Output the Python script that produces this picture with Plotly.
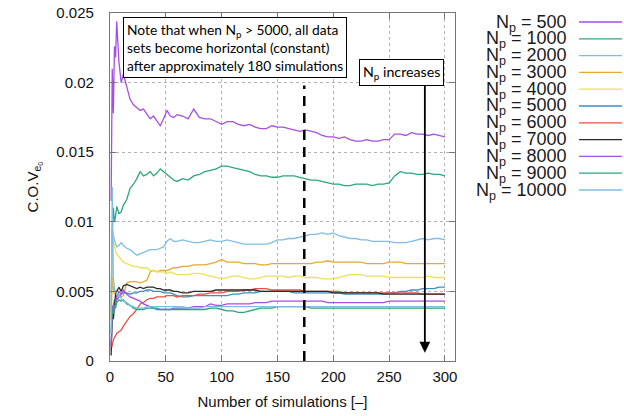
import plotly.graph_objects as go

# ---------------- data ----------------
sims = [1, 2, 3, 4, 5, 6, 8, 10, 12, 15,
        18, 21, 24, 27, 30, 33, 36, 39, 42, 45,
        48, 51, 54, 57, 60, 65, 70, 75, 80, 85,
        90, 95, 100, 105, 110, 115, 120, 125, 130, 135,
        140, 145, 150, 155, 160, 165, 170, 175, 180, 185,
        190, 195, 200, 205, 210, 215, 220, 225, 230, 235,
        240, 245, 250, 255, 260, 265, 270, 275, 280, 285,
        290, 295, 300]

np_labels = ["500", "1000", "2000", "3000", "4000", "5000",
             "6000", "7000", "8000", "9000", "10000"]

cov_500 = [0.0115, 0.0210, 0.0178, 0.0226, 0.0218, 0.0244, 0.0215, 0.0200, 0.0206, 0.0196,
           0.0188, 0.0184, 0.0182, 0.0180, 0.0181, 0.0177, 0.0174, 0.0176, 0.0172, 0.0169,
           0.0174, 0.0180, 0.0176, 0.0175, 0.0177, 0.0176, 0.0174, 0.0181, 0.0175, 0.0174,
           0.0174, 0.0172, 0.0170, 0.0172, 0.0172, 0.0170, 0.0169, 0.0170, 0.0168, 0.0167,
           0.0167, 0.0169, 0.0168, 0.0168, 0.0167, 0.0166, 0.0165, 0.0166, 0.0165, 0.0164,
           0.0162, 0.0161, 0.0161, 0.0160, 0.0161, 0.0159, 0.0158, 0.0158, 0.0159, 0.0158,
           0.0158, 0.0159, 0.0159, 0.0163, 0.0163, 0.0162, 0.0164, 0.0163, 0.0163, 0.0162,
           0.0163, 0.0162, 0.0161]
cov_1000 = [0.0035, 0.0095, 0.0110, 0.0100, 0.0104, 0.0111, 0.0106, 0.0107, 0.0112, 0.0116,
            0.0124, 0.0127, 0.0131, 0.0136, 0.0133, 0.0134, 0.0136, 0.0133, 0.0135, 0.0138,
            0.0136, 0.0134, 0.0132, 0.0130, 0.0129, 0.0131, 0.0130, 0.0133, 0.0134, 0.0136,
            0.0137, 0.0138, 0.0140, 0.0140, 0.0139, 0.0138, 0.0137, 0.0136, 0.0134, 0.0133,
            0.0133, 0.0132, 0.0132, 0.0133, 0.0133, 0.0133, 0.0132, 0.0131, 0.0130, 0.0130,
            0.0129, 0.0128, 0.0127, 0.0127, 0.0126, 0.0126, 0.0127, 0.0127, 0.0127, 0.0126,
            0.0127, 0.0127, 0.0128, 0.0133, 0.0136, 0.0135, 0.0135, 0.0134, 0.0134, 0.0135,
            0.0134, 0.0134, 0.0133]
cov_2000 = [0.0040, 0.0095, 0.0090, 0.0086, 0.0084, 0.0082, 0.0083, 0.0085, 0.0083, 0.0081,
            0.0080, 0.0078, 0.0076, 0.0077, 0.0078, 0.0079, 0.0080, 0.0080, 0.0080, 0.0081,
            0.0082, 0.0086, 0.0088, 0.0086, 0.0086, 0.0087, 0.0086, 0.0085, 0.0085, 0.0086,
            0.0087, 0.0086, 0.0086, 0.0087, 0.0086, 0.0085, 0.0084, 0.0084, 0.0084, 0.0084,
            0.0084, 0.0085, 0.0087, 0.0087, 0.0088, 0.0088, 0.0089, 0.0090, 0.0091, 0.0091,
            0.0092, 0.0091, 0.0092, 0.0090, 0.0089, 0.0088, 0.0088, 0.0087, 0.0087, 0.0086,
            0.0086, 0.0086, 0.0086, 0.0085, 0.0085, 0.0085, 0.0086, 0.0087, 0.0088, 0.0087,
            0.0088, 0.0088, 0.0087]
cov_3000 = [0.0030, 0.0060, 0.0052, 0.0048, 0.0050, 0.0046, 0.0048, 0.0046, 0.0047, 0.0056,
            0.0057, 0.0057, 0.0057, 0.0056, 0.0057, 0.0058, 0.0064, 0.0065, 0.0064, 0.0065,
            0.0065, 0.0065, 0.0066, 0.0067, 0.0067, 0.0068, 0.0068, 0.0069, 0.0069, 0.0069,
            0.0070, 0.0071, 0.0073, 0.0071, 0.0071, 0.0071, 0.0070, 0.0070, 0.0070, 0.0069,
            0.0069, 0.0070, 0.0070, 0.0070, 0.0070, 0.0070, 0.0070, 0.0070, 0.0070, 0.0071,
            0.0071, 0.0072, 0.0071, 0.0071, 0.0071, 0.0071, 0.0071, 0.0071, 0.0070, 0.0070,
            0.0070, 0.0070, 0.0071, 0.0071, 0.0071, 0.0070, 0.0070, 0.0070, 0.0070, 0.0070,
            0.0070, 0.0070, 0.0070]
cov_4000 = [0.0030, 0.0088, 0.0086, 0.0082, 0.0079, 0.0077, 0.0075, 0.0073, 0.0071, 0.0070,
            0.0069, 0.0068, 0.0068, 0.0067, 0.0067, 0.0067, 0.0065, 0.0065, 0.0064, 0.0064,
            0.0064, 0.0063, 0.0064, 0.0063, 0.0062, 0.0062, 0.0062, 0.0063, 0.0063, 0.0062,
            0.0061, 0.0060, 0.0059, 0.0060, 0.0061, 0.0061, 0.0060, 0.0059, 0.0059, 0.0060,
            0.0061, 0.0061, 0.0061, 0.0061, 0.0060, 0.0061, 0.0061, 0.0060, 0.0060, 0.0060,
            0.0059, 0.0059, 0.0059, 0.0060, 0.0061, 0.0062, 0.0062, 0.0062, 0.0061, 0.0061,
            0.0061, 0.0061, 0.0060, 0.0060, 0.0060, 0.0060, 0.0060, 0.0060, 0.0060, 0.0061,
            0.0060, 0.0060, 0.0060]
cov_5000 = [0.0010, 0.0035, 0.0040, 0.0044, 0.0042, 0.0044, 0.0046, 0.0048, 0.0049, 0.0049,
            0.0048, 0.0049, 0.0049, 0.0050, 0.0050, 0.0051, 0.0051, 0.0050, 0.0050, 0.0050,
            0.0049, 0.0049, 0.0049, 0.0048, 0.0047, 0.0046, 0.0046, 0.0047, 0.0047, 0.0047,
            0.0047, 0.0047, 0.0047, 0.0047, 0.0048, 0.0048, 0.0049, 0.0049, 0.0049, 0.0050,
            0.0050, 0.0050, 0.0050, 0.0050, 0.0050, 0.0049, 0.0049, 0.0049, 0.0049, 0.0049,
            0.0049, 0.0049, 0.0049, 0.0049, 0.0048, 0.0048, 0.0048, 0.0048, 0.0048, 0.0048,
            0.0048, 0.0048, 0.0049, 0.0049, 0.0050, 0.0050, 0.0051, 0.0051, 0.0052, 0.0052,
            0.0052, 0.0053, 0.0053]
cov_6000 = [0.0008, 0.0013, 0.0015, 0.0017, 0.0018, 0.0020, 0.0021, 0.0022, 0.0025, 0.0029,
            0.0032, 0.0034, 0.0037, 0.0041, 0.0042, 0.0044, 0.0045, 0.0045, 0.0046, 0.0046,
            0.0046, 0.0047, 0.0047, 0.0047, 0.0046, 0.0047, 0.0047, 0.0047, 0.0048, 0.0048,
            0.0049, 0.0049, 0.0049, 0.0050, 0.0050, 0.0050, 0.0051, 0.0051, 0.0052, 0.0052,
            0.0052, 0.0051, 0.0051, 0.0051, 0.0051, 0.0051, 0.0051, 0.0050, 0.0050, 0.0050,
            0.0050, 0.0050, 0.0050, 0.0050, 0.0049, 0.0049, 0.0049, 0.0049, 0.0049, 0.0049,
            0.0049, 0.0049, 0.0049, 0.0049, 0.0049, 0.0049, 0.0049, 0.0049, 0.0048, 0.0048,
            0.0048, 0.0048, 0.0048]
cov_7000 = [0.0004, 0.0035, 0.0030, 0.0042, 0.0048, 0.0050, 0.0053, 0.0050, 0.0054, 0.0055,
            0.0054, 0.0053, 0.0052, 0.0053, 0.0052, 0.0053, 0.0053, 0.0053, 0.0052, 0.0052,
            0.0051, 0.0051, 0.0051, 0.0050, 0.0050, 0.0049, 0.0049, 0.0050, 0.0050, 0.0050,
            0.0050, 0.0051, 0.0051, 0.0051, 0.0051, 0.0051, 0.0051, 0.0051, 0.0051, 0.0050,
            0.0050, 0.0050, 0.0050, 0.0050, 0.0050, 0.0050, 0.0050, 0.0050, 0.0050, 0.0050,
            0.0050, 0.0050, 0.0049, 0.0049, 0.0049, 0.0049, 0.0049, 0.0049, 0.0049, 0.0049,
            0.0049, 0.0048, 0.0048, 0.0048, 0.0048, 0.0048, 0.0048, 0.0048, 0.0048, 0.0048,
            0.0048, 0.0048, 0.0048]
cov_8000 = [0.0010, 0.0038, 0.0040, 0.0036, 0.0042, 0.0046, 0.0050, 0.0048, 0.0051, 0.0048,
            0.0046, 0.0045, 0.0044, 0.0043, 0.0041, 0.0040, 0.0039, 0.0038, 0.0037, 0.0037,
            0.0037, 0.0037, 0.0037, 0.0038, 0.0038, 0.0038, 0.0038, 0.0039, 0.0039, 0.0039,
            0.0041, 0.0040, 0.0040, 0.0041, 0.0041, 0.0041, 0.0041, 0.0041, 0.0042, 0.0042,
            0.0042, 0.0043, 0.0043, 0.0043, 0.0043, 0.0043, 0.0043, 0.0043, 0.0043, 0.0043,
            0.0043, 0.0042, 0.0042, 0.0042, 0.0042, 0.0042, 0.0042, 0.0042, 0.0042, 0.0042,
            0.0042, 0.0042, 0.0043, 0.0043, 0.0043, 0.0043, 0.0043, 0.0043, 0.0043, 0.0043,
            0.0043, 0.0043, 0.0043]
cov_9000 = [0.0020, 0.0037, 0.0034, 0.0040, 0.0038, 0.0042, 0.0044, 0.0043, 0.0044, 0.0041,
            0.0040, 0.0038, 0.0037, 0.0037, 0.0037, 0.0038, 0.0038, 0.0038, 0.0038, 0.0037,
            0.0037, 0.0037, 0.0037, 0.0037, 0.0037, 0.0037, 0.0037, 0.0037, 0.0037, 0.0037,
            0.0038, 0.0038, 0.0037, 0.0036, 0.0036, 0.0035, 0.0035, 0.0036, 0.0037, 0.0038,
            0.0038, 0.0038, 0.0039, 0.0039, 0.0039, 0.0039, 0.0039, 0.0039, 0.0038, 0.0038,
            0.0038, 0.0038, 0.0038, 0.0038, 0.0038, 0.0038, 0.0038, 0.0038, 0.0038, 0.0038,
            0.0038, 0.0038, 0.0038, 0.0038, 0.0038, 0.0038, 0.0038, 0.0038, 0.0038, 0.0038,
            0.0038, 0.0038, 0.0038]
cov_10000 = [0.0020, 0.0125, 0.0060, 0.0052, 0.0050, 0.0048, 0.0047, 0.0045, 0.0043, 0.0042,
             0.0040, 0.0039, 0.0038, 0.0038, 0.0038, 0.0039, 0.0039, 0.0039, 0.0039, 0.0039,
             0.0039, 0.0039, 0.0039, 0.0039, 0.0039, 0.0039, 0.0038, 0.0038, 0.0038, 0.0039,
             0.0039, 0.0039, 0.0039, 0.0039, 0.0039, 0.0039, 0.0039, 0.0039, 0.0039, 0.0039,
             0.0039, 0.0039, 0.0039, 0.0039, 0.0039, 0.0039, 0.0039, 0.0039, 0.0039, 0.0039,
             0.0039, 0.0039, 0.0039, 0.0039, 0.0039, 0.0039, 0.0039, 0.0039, 0.0039, 0.0039,
             0.0039, 0.0039, 0.0039, 0.0039, 0.0039, 0.0039, 0.0039, 0.0039, 0.0039, 0.0039,
             0.0039, 0.0039, 0.0039]

series = [cov_500, cov_1000, cov_2000, cov_3000, cov_4000, cov_5000,
          cov_6000, cov_7000, cov_8000, cov_9000, cov_10000]

colors = ["#a64ee6", "#2aa77e", "#7fbde6", "#e9a830", "#ede05a", "#3d8fc4",
          "#e8523f", "#2a2a2a", "#a64ee6", "#2aa77e", "#7fbde6"]

x_ticks = [0, 50, 100, 150, 200, 250, 300]
y_ticks = [0, 0.005, 0.01, 0.015, 0.02, 0.025]
y_ticktext = ["0", "0.005", "0.01", "0.015", "0.02", "0.025"]

threshold_sim = 174      # dashed vertical marker
arrow_sim = 282          # "N_p increases" arrow position

# ---------------- figure ----------------
W, H = 624, 416
L, R, T, B = 110, 169, 13, 55
PW, PH = W - L - R, H - T - B

fig = go.Figure()
for lab, ys, c in zip(np_labels, series, colors):
    fig.add_trace(go.Scatter(x=sims, y=ys, mode="lines", name="N<sub>p</sub> = " + lab,
                             line=dict(color=c, width=1.3), showlegend=False))

def px_x(p):
    return (p - L) / PW

def px_y(p):
    return (H - B - p) / PH

# custom gnuplot-style legend (text then line sample)
annotations = []
shapes = []
for i, (lab, c) in enumerate(zip(np_labels, colors)):
    yc = 22 + 16.8 * i
    annotations.append(dict(xref="paper", yref="paper", x=px_x(569), y=px_y(yc + 1),
                            xanchor="right", yanchor="middle", showarrow=False,
                            text="N<sub>p</sub> = " + lab,
                            font=dict(family="Liberation Sans", size=18, color="#1a1a1a")))
    shapes.append(dict(type="line", xref="paper", yref="paper",
                       x0=px_x(579), x1=px_x(622), y0=px_y(yc), y1=px_y(yc),
                       line=dict(color=c, width=1.3)))

# dashed vertical line
shapes.append(dict(type="line", xref="x", yref="y", x0=threshold_sim, x1=threshold_sim,
                   y0=0, y1=0.0198, line=dict(color="black", width=2.5, dash="10px,7px")))

# note box
annotations.append(dict(xref="paper", yref="paper", x=px_x(123), y=px_y(17),
                        xanchor="left", yanchor="top", showarrow=False, align="left",
                        text="Note that when N<sub>p</sub> > 5000, all data<br>"
                             "sets become horizontal (constant)<br>"
                             "after approximately 180 simulations",
                        font=dict(family="Lato, Open Sans", size=13.8, color="black"),
                        bgcolor="white", bordercolor="black", borderwidth=1, borderpad=3))

# arrow
annotations.append(dict(xref="x", yref="y", axref="x", ayref="y",
                        x=arrow_sim, y=0.0006, ax=arrow_sim, ay=0.0200,
                        showarrow=True, arrowhead=2, arrowsize=1.2, arrowwidth=1.8,
                        arrowcolor="black", text=""))
# N_p increases box
annotations.append(dict(xref="paper", yref="paper", x=px_x(359), y=px_y(59),
                        xanchor="left", yanchor="top", showarrow=False,
                        text="N<sub>p</sub> increases",
                        font=dict(family="Lato, Open Sans", size=14.2, color="black"),
                        bgcolor="white", bordercolor="black", borderwidth=1, borderpad=3))

axis_common = dict(showline=True, linecolor="#777", linewidth=1.3, mirror="ticks",
                   ticks="inside", ticklen=6, tickcolor="#777", automargin=False,
                   showgrid=True, gridcolor="#b4b4b4", gridwidth=1, griddash="3px,3px",
                   zeroline=False,
                   tickfont=dict(family="Liberation Sans", size=15, color="#111"))

fig.update_layout(
    width=W, height=H,
    margin=dict(l=L, r=R, t=T, b=B),
    paper_bgcolor="white", plot_bgcolor="white",
    xaxis=dict(range=[0, 309], tickvals=x_ticks, ticklabelstandoff=2,
               title=dict(text="Number of simulations [–]", standoff=12,
                          font=dict(family="Liberation Sans", size=15, color="#111")),
               **axis_common),
    yaxis=dict(range=[0, 0.025], tickvals=y_ticks, ticktext=y_ticktext, ticklabelstandoff=12,
               title=dict(text="C.O.V<sub>e<sub>0</sub></sub>", standoff=14,
                          font=dict(family="Liberation Sans", size=15, color="#111")),
               **axis_common),
    annotations=annotations,
    shapes=shapes,
)

fig.write_html("out.html")
